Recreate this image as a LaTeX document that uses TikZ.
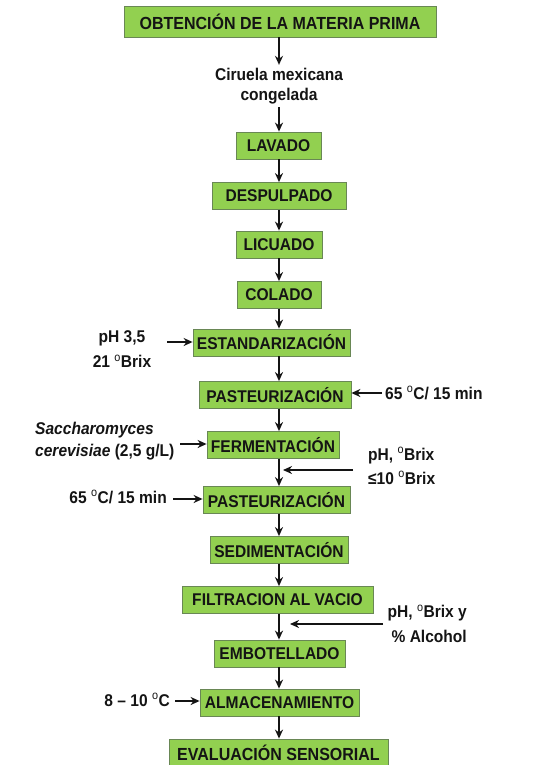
\documentclass[tikz,border=0pt]{standalone}
\usepackage{fontspec}
\setmainfont{Liberation Sans}
\newfontfamily\tallfont[FakeStretch=0.915]{Liberation Sans}
\usetikzlibrary{arrows.meta}
\definecolor{boxgreen}{RGB}{146,208,80}
\definecolor{boxline}{RGB}{105,135,85}
\definecolor{ink}{RGB}{20,20,20}
\newcommand{\dg}{\textsuperscript{\mdseries o}}
\tikzset{
  stepbox/.style={draw=boxline, line width=0.8pt, fill=boxgreen, minimum height=27pt, inner sep=0pt,
    font=\tallfont\fontsize{17}{20}\selectfont\bfseries, text=ink},
  lbl/.style={font=\tallfont\fontsize{17}{20}\selectfont\bfseries, text=ink, inner sep=0pt},
  arr/.style={line width=2pt, draw=ink, -{Stealth[length=9pt,width=8pt]}}
}
\begin{document}
\begin{tikzpicture}[x=1pt,y=-1pt]
\useasboundingbox (0,0) rectangle (533,765);
\clip (0,0) rectangle (533,765);
\fill[white] (0,0) rectangle (533,765);
\coordinate (ax) at (279,0);
% boxes
\node[stepbox, minimum width=312pt, minimum height=31pt, font=\tallfont\fontsize{17.5}{20}\selectfont\bfseries] (b1) at (280,21.5) {OBTENCIÓN DE LA MATERIA PRIMA};
\node[lbl, align=center] (cir) at (279,86) {Ciruela mexicana\\congelada};
\node[stepbox, minimum width=85pt] (lav) at (278.5,145.5) {LAVADO};
\node[stepbox, minimum width=134pt] (des) at (279,196) {DESPULPADO};
\node[stepbox, minimum width=86pt] (lic) at (279,244.5) {LICUADO};
\node[stepbox, minimum width=84pt] (col) at (279,295) {COLADO};
\node[stepbox, minimum width=157pt] (est) at (271.5,342.5) {ESTANDARIZACIÓN};
\node[stepbox, minimum width=152pt] (pa1) at (275,395) {PASTEURIZACIÓN};
\node[stepbox, minimum width=132pt] (fer) at (273,445) {FERMENTACIÓN};
\node[stepbox, minimum width=147pt] (pa2) at (276.5,500) {PASTEURIZACIÓN};
\node[stepbox, minimum width=138pt] (sed) at (279,550) {SEDIMENTACIÓN};
\node[stepbox, minimum width=191pt] (fil) at (277.5,600) {FILTRACION AL VACIO};
\node[stepbox, minimum width=131pt] (emb) at (279.5,653.5) {EMBOTELLADO};
\node[stepbox, minimum width=159pt] (alm) at (279.5,702.5) {ALMACENAMIENTO};
\node[stepbox, minimum width=219pt, minimum height=28pt, font=\tallfont\fontsize{17.5}{20}\selectfont\bfseries] (eva) at (278.5,753) {EVALUACIÓN SENSORIAL};
% main arrows
\draw[arr] (b1.south -| ax) -- ([yshift=3pt]cir.north -| ax);
\draw[arr] ([yshift=-3pt]cir.south -| ax) -- (lav.north -| ax);
\draw[arr] (lav.south -| ax) -- (des.north -| ax);
\draw[arr] (des.south -| ax) -- (lic.north -| ax);
\draw[arr] (lic.south -| ax) -- (col.north -| ax);
\draw[arr] (col.south -| ax) -- (est.north -| ax);
\draw[arr] (est.south -| ax) -- (pa1.north -| ax);
\draw[arr] (pa1.south -| ax) -- (fer.north -| ax);
\draw[arr] (fer.south -| ax) -- (pa2.north -| ax);
\draw[arr] (pa2.south -| ax) -- (sed.north -| ax);
\draw[arr] (sed.south -| ax) -- (fil.north -| ax);
\draw[arr] (fil.south -| ax) -- (emb.north -| ax);
\draw[arr] (emb.south -| ax) -- (alm.north -| ax);
\draw[arr] (alm.south -| ax) -- (eva.north -| ax);
% side labels
\node[lbl, align=center] (l1) at (122,349) {pH 3,5\\[5pt]21 \dg Brix};
\coordinate (s1) at (167,342);
\draw[arr] (s1) -- (s1 -| est.west);
\node[lbl, anchor=west] (l2) at (385,393) {65 \dg C/ 15 min};
\coordinate (s2) at (382,393);
\draw[arr] (s2) -- (s2 -| pa1.east);
\node[lbl, align=left, anchor=west] (l3) at (35,441) {\itshape Saccharomyces\\[2pt]\itshape cerevisiae\/\upshape{} (2,5 g/L)};
\coordinate (s3) at (180,444);
\draw[arr] (s3) -- (s3 -| fer.west);
\node[lbl, align=left, anchor=west] (l4) at (368,466) {pH, \dg Brix\\[4pt]≤10 \dg Brix};
\coordinate (s4) at (353,470);
\coordinate (s4e) at (283,470);
\draw[arr] (s4) -- (s4e);
\node[lbl, anchor=east] (l5) at (167,497) {65 \dg C/ 15 min};
\coordinate (s5) at (173,499);
\draw[arr] (s5) -- (s5 -| pa2.west);
\node[lbl, align=right, anchor=east] (l6) at (467,624) {pH, \dg Brix y\\[5pt]\% Alcohol};
\coordinate (s6) at (383,624);
\coordinate (s6e) at (290,624);
\draw[arr] (s6) -- (s6e);
\node[lbl, anchor=east] (l7) at (170,700) {8 – 10 \dg C};
\coordinate (s7) at (175,701);
\draw[arr] (s7) -- (s7 -| alm.west);
\end{tikzpicture}
\end{document}
